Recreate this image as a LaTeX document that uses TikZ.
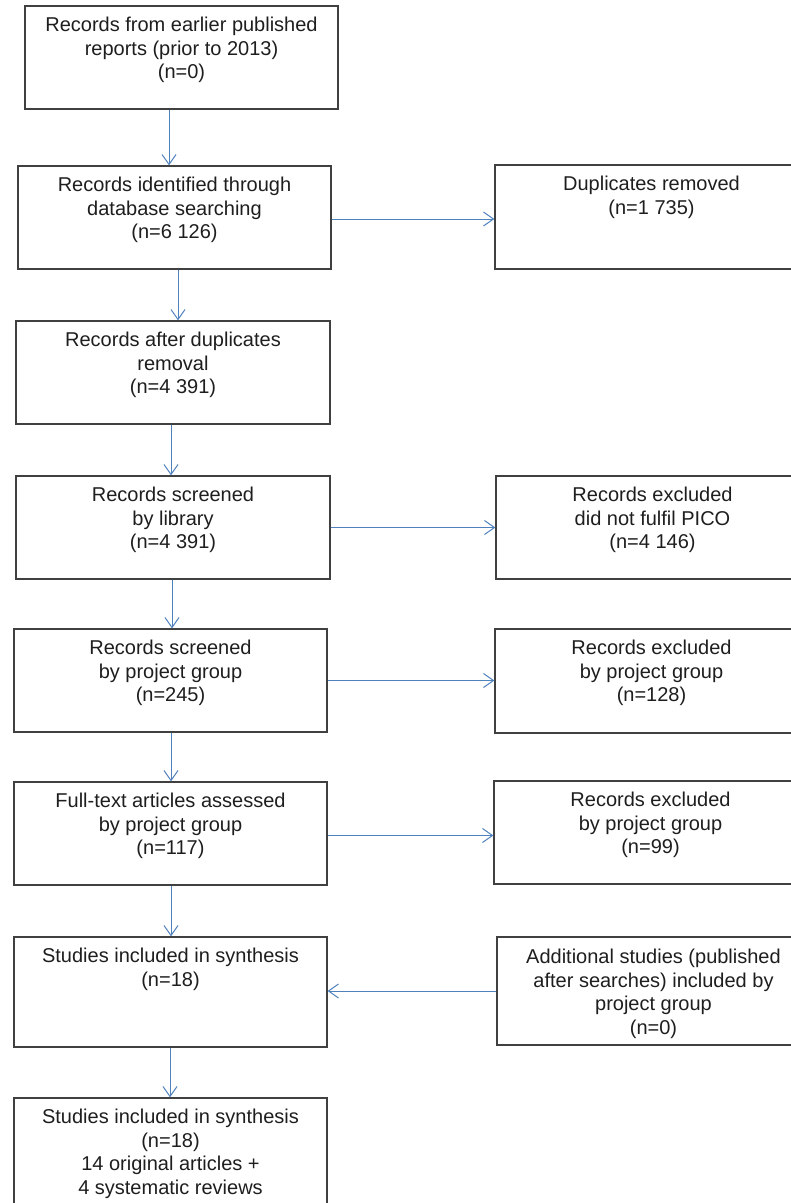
\documentclass[tikz,border=0pt]{standalone}
\usepackage{fontspec}
\setmainfont{Liberation Sans}
\usetikzlibrary{arrows.meta}
\definecolor{boxline}{HTML}{404040}
\definecolor{flow}{HTML}{4F81BD}
\definecolor{ink}{HTML}{1E1E1E}
\begin{document}
\begin{tikzpicture}[x=1pt,y=-1pt,
  stage/.style={draw=boxline, line width=1.3pt, minimum width=313pt, inner sep=0pt},
  caption/.style={anchor=north, align=center, inner sep=0pt, text=ink,
    font=\fontsize{20}{23.5}\selectfont},
  flowarrow/.style={draw=flow, line width=1pt, -{Straight Barb[length=10pt,width=14pt]}}]
\useasboundingbox (0,0) rectangle (791,1203);
\clip (0,0) rectangle (791,1203);

% left column
\node[stage, minimum height=103pt] (b1) at (181.5,57.5) {};
\node[stage, minimum height=103pt] (b2) at (174.5,217.5) {};
\node[stage, minimum height=103pt, minimum width=314pt] (b3) at (173,372.5) {};
\node[stage, minimum height=103pt, minimum width=314pt] (b4) at (173,527.5) {};
\node[stage, minimum height=103pt] (b5) at (170.5,680.5) {};
\node[stage, minimum height=103pt] (b6) at (170.5,833.5) {};
\node[stage, minimum height=110pt] (b7) at (170.5,992) {};
\node[stage, minimum height=124pt] (b8) at (170.5,1160) {};

% right column
\node[stage, minimum height=104pt] (r1) at (651.5,217) {};
\node[stage, minimum height=103pt] (r2) at (652.5,527.5) {};
\node[stage, minimum height=104pt] (r3) at (651.5,681) {};
\node[stage, minimum height=103pt] (r4) at (650.5,832.5) {};
\node[stage, minimum height=108pt] (r5) at (653.5,991) {};

% box texts
\node[caption] (t1) at ([yshift=-11.5pt]b1.north) {Records from earlier published\\reports (prior to 2013)\\(n=0)};
\node[caption] (t2) at ([yshift=-11.5pt]b2.north) {Records identified through\\database searching\\(n=6 126)};
\node[caption] (t3) at ([yshift=-11.5pt]b3.north) {Records after duplicates\\removal\\(n=4 391)};
\node[caption] (t4) at ([yshift=-11.5pt]b4.north) {Records screened\\by library\\(n=4 391)};
\node[caption] (t5) at ([yshift=-11.5pt]b5.north) {Records screened\\by project group\\(n=245)};
\node[caption] (t6) at ([yshift=-11.5pt]b6.north) {Full-text articles assessed\\by project group\\(n=117)};
\node[caption] (t7) at ([yshift=-11.5pt]b7.north) {Studies included in synthesis\\(n=18)};
\node[caption] (t8) at ([yshift=-11.5pt]b8.north) {Studies included in synthesis\\(n=18)\\14 original articles +\\4 systematic reviews};
\node[caption] (u1) at ([yshift=-11.5pt]r1.north) {Duplicates removed\\(n=1 735)};
\node[caption] (u2) at ([yshift=-11.5pt]r2.north) {Records excluded\\did not fulfil PICO\\(n=4 146)};
\node[caption] (u3) at ([yshift=-11.5pt]r3.north) {Records excluded\\by project group\\(n=128)};
\node[caption] (u4) at ([yshift=-11.5pt]r4.north) {Records excluded\\by project group\\(n=99)};
\node[caption] (u5) at ([yshift=-12.5pt]r5.north) {Additional studies (published\\after searches) included by\\project group\\(n=0)};

% downward flow
\draw[flowarrow] ([xshift=-12.5pt]b1.south) -- ([xshift=-12.5pt]b1.south |- b2.north);
\draw[flowarrow] ([xshift=3.5pt]b2.south) -- ([xshift=3.5pt]b2.south |- b3.north);
\draw[flowarrow] ([xshift=-2pt]b3.south) -- ([xshift=-2pt]b3.south |- b4.north);
\draw[flowarrow] ([xshift=-1pt]b4.south) -- ([xshift=-1pt]b4.south |- b5.north);
\draw[flowarrow] ([xshift=0.5pt]b5.south) -- ([xshift=0.5pt]b5.south |- b6.north);
\draw[flowarrow] ([xshift=0.5pt]b6.south) -- ([xshift=0.5pt]b6.south |- b7.north);
\draw[flowarrow] ([xshift=-0.5pt]b7.south) -- ([xshift=-0.5pt]b7.south |- b8.north);

% side flow
\draw[flowarrow] ([yshift=-1.5pt]b2.east) -- ([yshift=-1.5pt]b2.east -| r1.west);
\draw[flowarrow] (b4.east) -- (b4.east -| r2.west);
\draw[flowarrow] (b5.east) -- (b5.east -| r3.west);
\draw[flowarrow] ([yshift=-2pt]b6.east) -- ([yshift=-2pt]b6.east -| r4.west);
\draw[flowarrow] (r5.west) -- (r5.west -| b7.east);
\end{tikzpicture}
\end{document}
